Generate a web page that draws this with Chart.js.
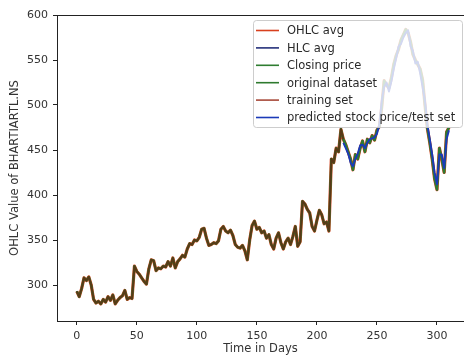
<!DOCTYPE html>
<html>
<head>
<meta charset="utf-8">
<script src="https://cdn.jsdelivr.net/npm/chart.js@4"></script>
<style>
  body { margin: 0; background: #fff; }
  canvas { display: block; }
</style>
</head>
<body>
<canvas id="chart" width="464" height="356"></canvas>
<script>
// days on the x axis (every 2nd day)
const days = [];
for (let d = 0; d <= 310; d += 2) days.push(d);

// OHLC average (HLC avg / close follow it closely)
const ohlcAvg = [
  293, 287, 296, 308, 305, 309, 300, 284, 280, 282,
  279, 284, 281, 287, 283, 289, 279, 283, 286, 288,
  294, 284, 286, 285, 321, 315, 312, 308, 304, 301,
  318, 328, 327, 316, 319, 318, 321, 320, 326, 321,
  330, 319, 326, 329, 333, 331, 340, 346, 345, 350,
  349, 353, 362, 363, 352, 344, 345, 347, 346, 349,
  362, 365, 360, 358, 361, 355, 345, 342, 341, 344,
  338, 328, 350, 366, 371, 362, 364, 358, 360, 352,
  356, 345, 340, 352, 358, 347, 340, 348, 352, 345,
  354, 365, 343, 348, 393, 390, 384, 380, 365, 360,
  372, 383, 378, 368, 370, 360, 440, 436, 452, 448,
  473, 462, 456, 448, 440, 428, 445, 440, 452, 460,
  448, 462, 458, 466, 461, 472, 476, 498, 527, 522,
  519, 530, 545, 555, 562, 572, 578, 584, 580, 570,
  556, 550, 545, 540, 528, 500, 474, 458, 440, 418,
  406, 452, 440, 425, 470, 475
];
const hlcAvg = ohlcAvg;
const closePrice = ohlcAvg;

const trainEnd = 222; // last day of the training part
const testDays = days.filter(d => d >= trainEnd);
const testPred = [
  458, 452, 446, 436, 432, 440, 446, 455, 456, 452,
  458, 462, 463, 464, 468, 478, 505, 520, 525, 515,
  526, 540, 552, 565, 568, 575, 580, 583, 565, 560,
  546, 548, 535, 520, 505, 478, 462, 445, 425, 412,
  445, 445, 430, 462, 472
];

const xTicks = [0, 50, 100, 150, 200, 250, 300];
const yTicks = [300, 350, 400, 450, 500, 550, 600];

const pts = (xs, ys) => xs.map((x, i) => ({ x, y: ys[i] }));
const trainIdx = days.filter(d => d <= trainEnd).length;

Chart.defaults.font.family = "'DejaVu Sans', sans-serif";
Chart.defaults.color = "#333";

function line(label, data, color, width, order) {
  return {
    label, data, order,
    borderColor: color,
    backgroundColor: color,
    borderWidth: width,
    pointRadius: 0,
    tension: 0,
    fill: false,
    borderJoinStyle: "round"
  };
}

// top spine + semi transparent legend drawn over the lines
const frameAndLegend = {
  id: "frameAndLegend",
  afterDatasetsDraw(chart) {
    const { ctx, chartArea: a } = chart;
    ctx.save();
    ctx.strokeStyle = "#222";
    ctx.lineWidth = 1;
    ctx.beginPath();
    ctx.moveTo(a.left, a.top + 0.5);
    ctx.lineTo(a.right, a.top + 0.5);
    ctx.stroke();

    const bx = a.right - 211, by = a.top + 5, bw = 209, bh = 107;
    ctx.fillStyle = "rgba(255,255,255,0.8)";
    ctx.strokeStyle = "rgba(200,200,200,0.9)";
    ctx.beginPath();
    ctx.roundRect(bx + 0.5, by + 0.5, bw, bh, 3);
    ctx.fill();
    ctx.stroke();

    ctx.font = "11.5px 'DejaVu Sans', sans-serif";
    ctx.textBaseline = "middle";
    chart.data.datasets.forEach((ds, i) => {
      const y = by + 10.5 + i * 17.4;
      ctx.strokeStyle = ds.legendColor || ds.borderColor;
      ctx.lineWidth = 1.6;
      ctx.beginPath();
      ctx.moveTo(bx + 3, y);
      ctx.lineTo(bx + 26, y);
      ctx.stroke();
      ctx.fillStyle = "#2a2a2a";
      ctx.fillText(ds.label, bx + 34, y + 1);
    });
    ctx.restore();
  }
};

const training = line("training set", pts(days.slice(0, trainIdx), ohlcAvg.slice(0, trainIdx)), "rgba(105,30,12,0.72)", 1.9, 2);
training.legendColor = "#a84a3a";

new Chart(document.getElementById("chart"), {
  type: "line",
  data: {
    datasets: [
      line("OHLC avg", pts(days, ohlcAvg), "#d8401e", 3.2, 6),
      line("HLC avg", pts(days, hlcAvg), "#24307a", 1.4, 5),
      line("Closing price", pts(days, closePrice), "#2f7d31", 1.4, 4),
      line("original dataset", pts(days, closePrice), "#2f7a2f", 2.4, 3),
      training,
      line("predicted stock price/test set", pts(testDays, testPred), "#1b3ab8", 1.9, 1)
    ]
  },
  options: {
    responsive: false,
    devicePixelRatio: 1,
    animation: false,
    layout: { padding: { top: 15, right: 0, left: 0, bottom: 0 } },
    plugins: { legend: { display: false }, tooltip: { enabled: false } },
    scales: {
      x: {
        type: "linear",
        min: -16.5,
        max: 322.5,
        afterBuildTicks: s => { s.ticks = xTicks.map(v => ({ value: v })); },
        afterFit: s => { s.height = 35; },
        grid: { drawOnChartArea: false, tickLength: 4, color: "#222" },
        border: { color: "#222", width: 1 },
        ticks: { font: { size: 11 }, padding: 5, maxRotation: 0 },
        title: { display: true, text: "Time in Days", font: { size: 11.5 }, padding: { top: 0, bottom: 0 } }
      },
      y: {
        min: 260,
        max: 600,
        afterBuildTicks: s => { s.ticks = yTicks.map(v => ({ value: v })); },
        afterFit: s => { s.width = 57; },
        grid: { drawOnChartArea: false, tickLength: 4, color: "#222" },
        border: { color: "#222", width: 1 },
        ticks: { font: { size: 11 }, padding: 5 },
        title: { display: true, text: "OHLC Value of BHARTIARTL.NS", font: { size: 11.5 }, padding: { top: 8, bottom: 0 } }
      }
    }
  },
  plugins: [frameAndLegend]
});
</script>
</body>
</html>
